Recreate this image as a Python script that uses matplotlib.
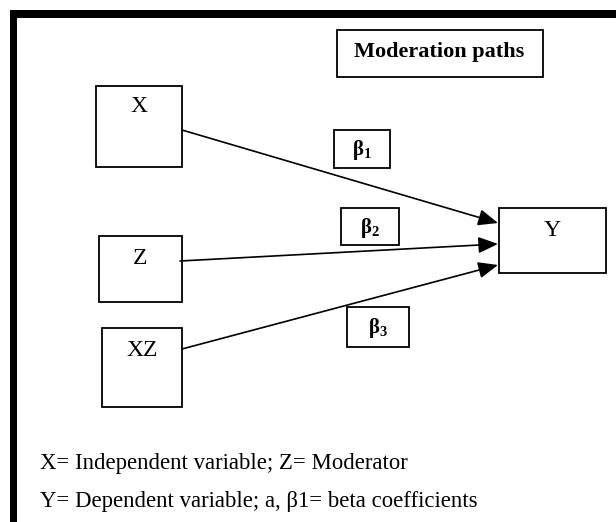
import matplotlib.pyplot as plt
from matplotlib.patches import Rectangle

plt.rcParams['font.family'] = ['Liberation Serif', 'DejaVu Serif']
plt.rcParams['mathtext.fontset'] = 'custom'
plt.rcParams['mathtext.rm'] = 'Liberation Serif:bold'

# diagram content
title = 'Moderation paths'
nodes = ['X', 'Z', 'XZ', 'Y']
paths = [('X', 'Y'), ('Z', 'Y'), ('XZ', 'Y')]
path_labels = [r'$\mathrm{β_1}$', r'$\mathrm{β_2}$', r'$\mathrm{β_3}$']
notes = ['X= Independent variable; Z= Moderator',
         'Y= Dependent variable; a, β1= beta coefficients']

# layout in pixels (x0, y0, x1, y1), y downwards
node_box = {'X': (96, 86, 182, 167), 'Z': (99, 236, 182, 302),
            'XZ': (102, 328, 182, 407), 'Y': (499, 208, 606, 273)}
node_text_y = {'X': 107, 'Z': 258, 'XZ': 350, 'Y': 230}
start_pt = {'X': (182, 130), 'Z': (180, 261), 'XZ': (182, 349)}
end_pt = {'X': (498, 223), 'Z': (498, 244), 'XZ': (498, 265)}
label_box = [(334, 130, 390, 168), (341, 208, 399, 245), (347, 307, 409, 347)]

fig = plt.figure(figsize=(6.16, 5.22), dpi=100)
ax = fig.add_axes([0, 0, 1, 1])
ax.set_xlim(0, 616)
ax.set_ylim(522, 0)
ax.axis('off')

# thick frame on top and left
ax.add_patch(Rectangle((10, 10), 606, 7.5, color='black', lw=0))
ax.add_patch(Rectangle((10, 10), 7, 512, color='black', lw=0))


def box(b, lw=1.3):
    x0, y0, x1, y1 = b
    ax.add_patch(Rectangle((x0, y0), x1 - x0, y1 - y0, fill=False,
                           ec='black', lw=lw))


box((337, 30, 543, 77))
ax.text(439, 52, title, ha='center', va='center', fontsize=16,
        fontweight='bold')

for n in nodes:
    b = node_box[n]
    box(b)
    ax.text((b[0] + b[2]) / 2, node_text_y[n], n, ha='center', va='center',
            fontsize=17)

for (s, t), lab, lb in zip(paths, path_labels, label_box):
    ax.annotate('', xy=end_pt[s], xytext=start_pt[s],
                arrowprops=dict(arrowstyle='-|>,head_length=0.6,head_width=0.25',
                                color='black', lw=1.2,
                                mutation_scale=20, shrinkA=0, shrinkB=0))
    box(lb)
    ax.text((lb[0] + lb[2]) / 2, (lb[1] + lb[3]) / 2 + 1, lab,
            ha='center', va='center', fontsize=15)

for i, line in enumerate(notes):
    ax.text(40, 463 + 39 * i, line, ha='left', va='center', fontsize=16.4)

fig.savefig('out.png', dpi=100, facecolor='white')
